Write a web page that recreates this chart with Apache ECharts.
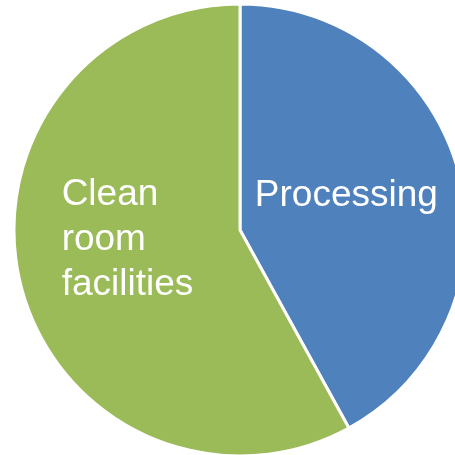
<!DOCTYPE html>
<html>
<head>
<meta charset="utf-8">
<script src="https://cdn.jsdelivr.net/npm/echarts@6/dist/echarts.min.js"></script>
<style>
  html, body { margin: 0; padding: 0; background: #ffffff; }
  #chart { width: 455px; height: 455px; }
</style>
</head>
<body>
<div id="chart"></div>
<script>
// Cost breakdown shares (percent)
const categories = ['Processing', 'Clean room facilities'];
const shares = [42, 58];
const sliceColors = ['#4F81BD', '#9BBB59'];

const chart = echarts.init(document.getElementById('chart'), null, { renderer: 'canvas' });

const labelOffsets = [[-6, -5], [-66, -19]];
const labelAligns = ['center', 'left'];

chart.setOption({
  animation: false,
  series: [{
    type: 'pie',
    center: [240, 230],
    radius: [0, 226],
    startAngle: 90,
    clockwise: true,
    avoidLabelOverlap: false,
    itemStyle: { borderColor: '#ffffff', borderWidth: 3 },
    label: {
      show: true,
      position: 'inside',
      color: '#ffffff',
      fontFamily: 'Liberation Sans, Arial, sans-serif',
      fontSize: 37,
      lineHeight: 45,
      formatter: p => p.name.split(' ').join('\n')
    },
    labelLine: { show: false },
    // multi-line label reads left-aligned inside its slice
    labelLayout: p => ({ align: labelAligns[p.dataIndex] }),
    data: categories.map((name, i) => ({
      name,
      value: shares[i],
      itemStyle: { color: sliceColors[i] },
      label: { offset: labelOffsets[i] }
    }))
  }]
});
</script>
</body>
</html>
